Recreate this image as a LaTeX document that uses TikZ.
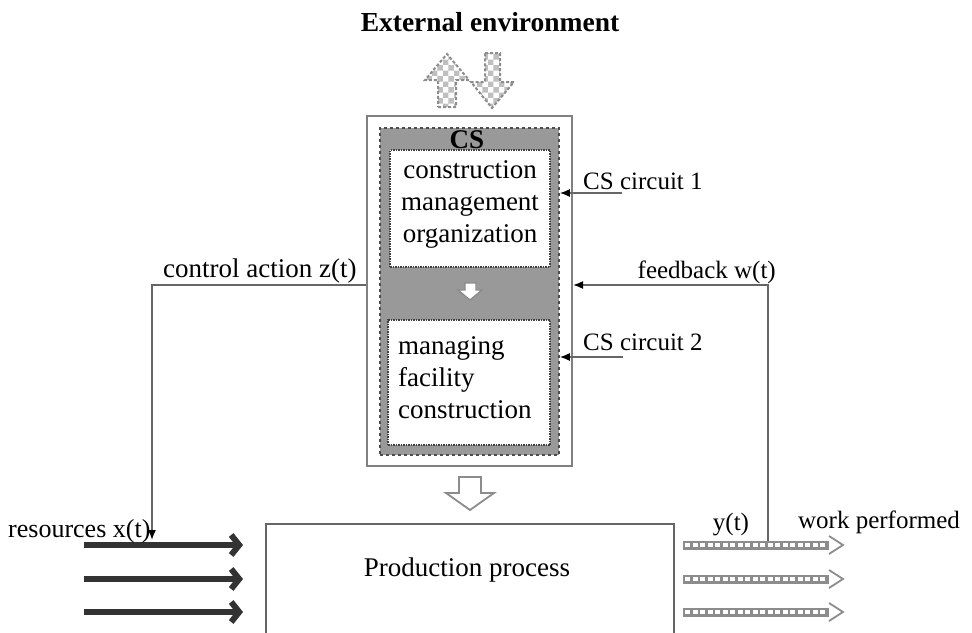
\documentclass[tikz,border=0pt]{standalone}
\usepackage{fontspec}
\setmainfont{Liberation Serif}
\usetikzlibrary{arrows.meta,patterns}
\begin{document}
\begin{tikzpicture}[x=1pt,y=-1pt,
  thinline/.style={draw=black!60, line width=1.6pt},
  tipped/.style={-{Latex[length=10pt,width=8pt,color=black]}},
  lbl/.style={font=\fontsize{27}{32}\selectfont, inner sep=0pt},
  slbl/.style={font=\fontsize{25}{30}\selectfont, inner sep=0pt},
  whitebox/.style={draw=black!75, densely dotted, line width=1.5pt, fill=white, inner sep=0pt},
  hollow/.style={draw=black!45, line width=1.8pt, fill=white, line join=miter},
  hatched/.style={draw=black!45, densely dashed, line width=2pt, pattern=checkerboard, pattern color=black!25},
  resarrow/.style={line width=6pt, draw=black!80, -{Straight Barb[length=8pt,width=20pt]}},
]
\useasboundingbox (0,0) rectangle (972,632);

% title
\node[font=\fontsize{27.5}{32}\selectfont\bfseries, inner sep=0pt] (title) at (490,22) {External environment};

% exchange arrows with the environment
\draw[hatched] (438,107) -- (456,107) -- (456,80) -- (469,80) -- (447,54) -- (425,80) -- (438,80) -- cycle;
\draw[hatched] (485,53) -- (500,53) -- (500,82) -- (514,82) -- (492,108) -- (471,82) -- (485,82) -- cycle;

% CS boxes
\node[draw=black!50, line width=2pt, minimum width=205pt, minimum height=350pt, inner sep=0pt] (outer) at (469.5,291) {};
\node[draw=black!70, dashed, line width=1.5pt, fill=black!40, minimum width=179pt, minimum height=327pt, inner sep=0pt] (inner) at (469.5,291.5) {};
\node[font=\fontsize{27}{32}\selectfont\bfseries, inner sep=0pt] (cs) at (467,140) {CS};
\node[whitebox, minimum width=160pt, minimum height=117pt] (b1) at (470,208.5) {};
\node[lbl, align=center] (t1) at (470,204) {construction\\management\\organization};
\node[whitebox, minimum width=162pt, minimum height=125pt] (b2) at (469,382.5) {};
\node[lbl, align=left, anchor=west] (t2) at (398,378) {managing\\facility\\construction};

% small arrow between the circuits
\draw[hollow, line width=1.4pt] (465,283) -- (476,283) -- (476,290) -- (482,290) -- (470,300) -- (458,290) -- (465,290) -- cycle;

% arrow from CS to production
\draw[hollow] (459,477) -- (481,477) -- (481,493) -- (494,493) -- (470,510) -- (446,493) -- (459,493) -- cycle;

% production process
\node[draw=black!60, line width=1.6pt, minimum width=408pt, minimum height=140pt, inner sep=0pt, anchor=north west] (pp) at (265,523) {};
\node[lbl] (ppt) at (467,570) {Production process};

% resources arrows
\foreach \i/\y in {1/545,2/579,3/612}{
  \coordinate (rs\i) at (84,\y);
  \coordinate (re\i) at (243,\y);
  \draw[resarrow] (rs\i) -- (re\i);
}
\node[anchor=west, inner sep=0pt, font=\fontsize{26}{30}\selectfont] (res) at (8,531) {resources x(t)};

% output arrows
\foreach \i/\y in {1/545,2/579,3/612}{
  \coordinate (os\i) at (683,\y);
  \coordinate (oe\i) at (829,\y);
  \draw[draw=black!45, line width=9pt] (os\i) -- (oe\i);
  \draw[draw=white, line width=3.5pt, dash pattern=on 5pt off 2.5pt] ([xshift=2pt]os\i) -- ([xshift=-2pt]oe\i);
  \draw[draw=black!45, line width=1.8pt, fill=white] ([yshift=-9pt]oe\i) -- ([xshift=14pt]oe\i) -- ([yshift=9pt]oe\i);
}
\node[slbl] (yt) at (731,525) {y(t)};
\node[slbl] (wp) at (879,522) {work performed};

% control action
\coordinate (za) at (152,285);
\coordinate (zb) at (152,540);
\draw[thinline, tipped] (za -| outer.west) -- (za) -- (zb);
\node[lbl, anchor=south west] (zl) at (163,283) {control action z(t)};

% feedback
\coordinate (fa) at (768,285);
\coordinate (fb) at (768,541);
\draw[thinline, tipped] (fb) -- (fa) -- (fa -| outer.east);
\node[slbl, anchor=south east] (fl) at (776,284) {feedback w(t)};

% circuit inputs
\coordinate (c1) at (622,193);
\coordinate (c2) at (623,357);
\draw[thinline, tipped] (c1) -- (c1 -| inner.east);
\draw[thinline, tipped] (c2) -- (c2 -| inner.east);
\node[slbl, anchor=south west] (c1l) at (583,190) {CS circuit 1};
\node[slbl, anchor=south west] (c2l) at (583,351) {CS circuit 2};
\end{tikzpicture}
\end{document}
